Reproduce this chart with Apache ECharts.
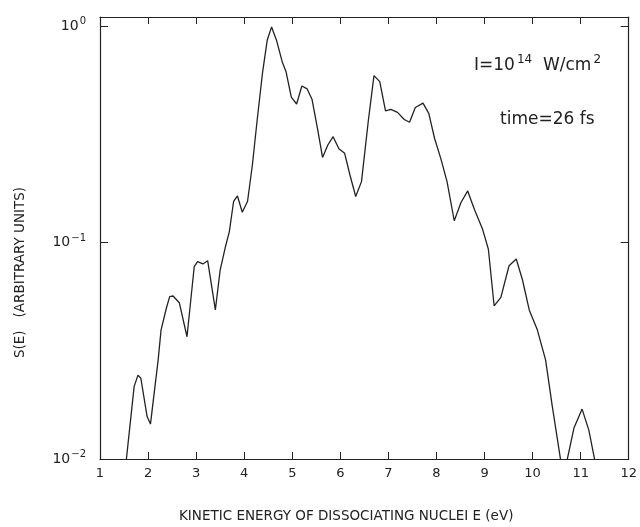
<!DOCTYPE html>
<html>
<head>
<meta charset="utf-8">
<script src="https://cdn.jsdelivr.net/npm/echarts@6/dist/echarts.min.js"></script>
<style>
  html, body { margin: 0; padding: 0; background: #fff; }
  #main { width: 640px; height: 527px; }
</style>
</head>
<body>
<div id="main"></div>
<script>
// energy (eV) and spectrum S(E)
var energy = [1.50, 1.71, 1.79, 1.85, 1.98, 2.05, 2.21, 2.27, 2.38, 2.45, 2.52, 2.65, 2.81, 2.96, 3.03, 3.14, 3.24, 3.40, 3.50, 3.61,
  3.69, 3.78, 3.86, 3.96, 4.07, 4.17, 4.27, 4.38, 4.48, 4.57, 4.67, 4.79, 4.87, 4.98, 5.09, 5.20, 5.31, 5.41, 5.53, 5.63,
  5.74, 5.85, 5.97, 6.09, 6.20, 6.32, 6.44, 6.58, 6.70, 6.82, 6.94, 7.05, 7.19, 7.33, 7.44, 7.56, 7.72, 7.84, 7.96, 8.10,
  8.22, 8.37, 8.51, 8.65, 8.79, 8.96, 9.08, 9.20, 9.34, 9.51, 9.66, 9.79, 9.93, 10.10, 10.27, 10.41, 10.64, 10.86, 11.03, 11.17,
  11.40];
var spectrum = [0.0079, 0.0216, 0.0244, 0.0236, 0.0157, 0.0145, 0.0287, 0.0394, 0.0497, 0.0562, 0.0566, 0.0527, 0.0367, 0.0773, 0.0816, 0.0796, 0.0824, 0.0488, 0.0746, 0.0957,
  0.112, 0.155, 0.164, 0.138, 0.155, 0.228, 0.368, 0.605, 0.862, 0.99, 0.862, 0.684, 0.615, 0.469, 0.436, 0.528, 0.512, 0.459, 0.331, 0.247,
  0.282, 0.308, 0.271, 0.258, 0.205, 0.163, 0.191, 0.361, 0.590, 0.553, 0.405, 0.412, 0.399, 0.370, 0.359, 0.420, 0.440, 0.395, 0.303, 0.240,
  0.191, 0.126, 0.153, 0.173, 0.142, 0.115, 0.093, 0.051, 0.0558, 0.0781, 0.0839, 0.0671, 0.0488, 0.0394, 0.0287, 0.0175, 0.0082, 0.0139, 0.0170, 0.0136,
  0.0075];
var xTicks = [1, 2, 3, 4, 5, 6, 7, 8, 9, 10, 11, 12];

var ink = '#222';
var font = 'DejaVu Sans';

var myChart = echarts.init(document.getElementById('main'));

function decadeLabel(v) {
  var e = Math.log10(v);
  var r = Math.round(e);
  if (Math.abs(e - r) > 1e-6) return '';
  return '{b|10}{s|' + String(r).replace('-', '\u2212') + '}';
}

var pts = energy.map(function (e, i) { return [e, spectrum[i]]; });

myChart.setOption({
  animation: false,
  grid: { left: 100, right: 8, top: 17, bottom: 68 },
  xAxis: [
    {
      type: 'value', min: 1, max: 12, interval: 1,
      axisLine: { lineStyle: { color: ink, width: 1.2 } },
      axisTick: { inside: true, length: 7, lineStyle: { color: ink } },
      axisLabel: {
        color: ink, fontFamily: font, fontSize: 13, margin: 8,
        formatter: function (v) { return xTicks.indexOf(v) >= 0 ? String(v) : ''; }
      },
      splitLine: { show: false }
    },
    {
      type: 'value', position: 'top', min: 1, max: 12, interval: 1,
      axisLine: { lineStyle: { color: ink, width: 1.2 } },
      axisTick: { inside: true, length: 7, lineStyle: { color: ink } },
      axisLabel: { show: false },
      splitLine: { show: false }
    }
  ],
  yAxis: [
    {
      type: 'log', logBase: 10, min: 0.01, max: 1.1,
      axisLine: { show: true, lineStyle: { color: ink, width: 1.2 } },
      axisTick: { show: true, inside: true, length: 8, lineStyle: { color: ink } },
      axisLabel: {
        color: ink, fontFamily: font, margin: 14,
        formatter: decadeLabel,
        rich: {
          b: { fontSize: 14, fontFamily: font, color: ink },
          s: { fontSize: 10, fontFamily: font, color: ink, verticalAlign: 'bottom', padding: [0, 0, 9, 1] }
        }
      },
      splitLine: { show: false }
    },
    {
      type: 'log', logBase: 10, min: 0.01, max: 1.1, position: 'right',
      axisLine: { show: true, lineStyle: { color: ink, width: 1.2 } },
      axisTick: { show: true, inside: true, length: 8, lineStyle: { color: ink } },
      axisLabel: { show: false },
      splitLine: { show: false }
    }
  ],
  series: [
    {
      type: 'line',
      data: pts,
      showSymbol: false,
      clip: true,
      lineStyle: { color: ink, width: 1.3 }
    }
  ],
  graphic: [
    {
      type: 'text', left: 179, top: 509,
      style: {
        text: 'KINETIC ENERGY OF DISSOCIATING NUCLEI E (eV)',
        fill: ink, font: '13.5px "DejaVu Sans"'
      }
    },
    {
      type: 'text', x: 13, y: 358, rotation: Math.PI / 2,
      style: {
        text: 'S(E)   (ARBITRARY UNITS)',
        fill: ink, font: '13.5px "DejaVu Sans"'
      }
    },
    {
      type: 'text', left: 474, top: 54,
      style: {
        text: '{m|I=10}{s|14}{m|  W/cm}{s|2}',
        rich: {
          m: { fontSize: 17, fontFamily: font, fill: ink },
          s: { fontSize: 12, fontFamily: font, fill: ink, verticalAlign: 'bottom', padding: [0, 0, 12, 2] }
        }
      }
    },
    {
      type: 'text', left: 500, top: 111,
      style: {
        text: 'time=26 fs',
        fill: ink, font: '17px "DejaVu Sans"'
      }
    }
  ]
});
</script>
</body>
</html>
